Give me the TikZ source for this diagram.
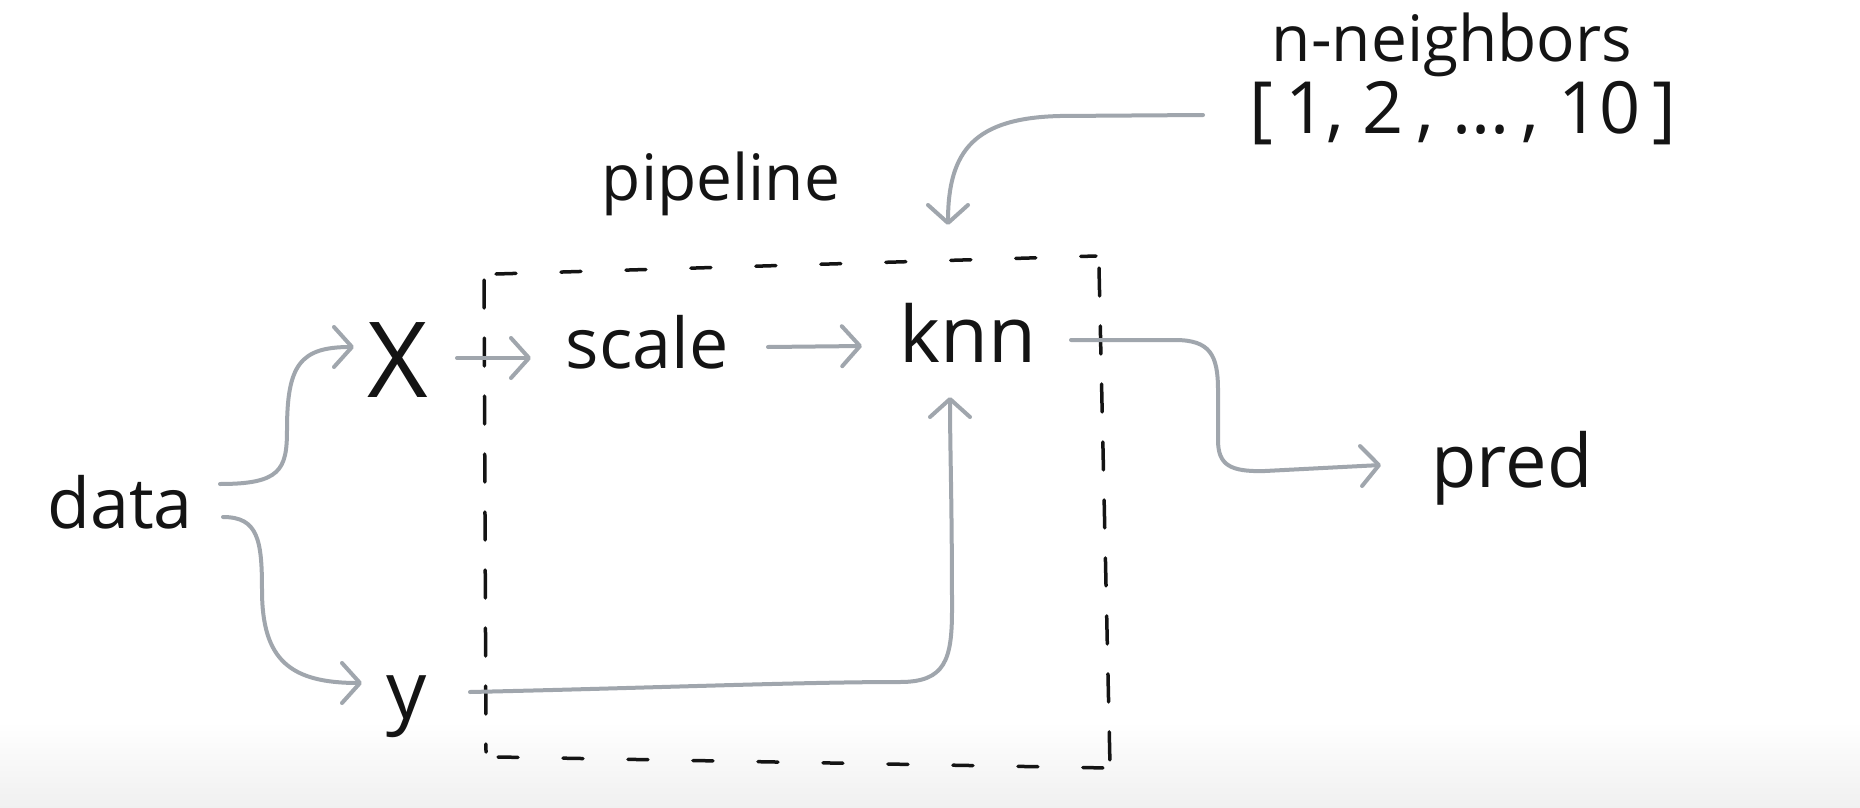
\documentclass[tikz,border=0pt]{standalone}
\usepackage{fontspec}
\setmainfont{Open Sans}
\usetikzlibrary{arrows.meta}
\definecolor{inkgray}{RGB}{160,166,173}
\definecolor{ink}{RGB}{20,20,20}
\definecolor{bandgray}{RGB}{240,240,240}
\tikzset{
  lbl/.style={anchor=base, inner sep=0pt, text=ink},
  conn/.style={draw=inkgray, line width=4pt, line cap=round, line join=round,
    -{Straight Barb[length=18pt,width=40pt,round]}},
  boxv/.style={draw=ink, line width=3.5pt, line cap=round, dash pattern=on 28pt off 30pt},
  boxh/.style={draw=ink, line width=3.5pt, line cap=round, dash pattern=on 20pt off 45pt},
}
\newcommand{\fs}[1]{\fontsize{#1}{#1}\selectfont}
\begin{document}
\begin{tikzpicture}[x=1pt,y=-1pt]
\useasboundingbox (0,0) rectangle (1860,808);
\fill[white] (0,0) rectangle (1860,808);
\shade[top color=white,bottom color=bandgray] (0,722) rectangle (1860,808);

% pipeline box
\draw[boxh] (496,274) -- (1096,256);
\draw[boxv] (1099,268) -- (1110,766);
\draw[boxh] (498,757) -- (1108,768);
\draw[boxv] (484,280) -- (486,752);

% labels
\node[lbl, font=\fs{70}] (data) at (120,528) {data};
\node[lbl, font=\fs{105}] (X) at (398,397) {X};
\node[lbl, font=\fs{80}] (y) at (407,718) {y};
\node[lbl, font=\fs{70}] (scale) at (647,368) {scale};
\node[lbl, font=\fs{78}] (knn) at (968,362) {knn};
\node[lbl, font=\fs{74}] (pred) at (1512,487) {pred};
\node[lbl, font=\fs{64}] (pipeline) at (721,200) {pipeline};
\node[lbl, font=\fs{64}] (nn) at (1452,62) {n-neighbors};
\node[lbl, font=\fs{72}] (range) at (1463,133) {[\,1,\ 2\,,\ ...\,,\ 10\,]};

% connectors
\draw[conn] ([xshift=100pt,yshift=44pt]data.base)
  .. controls (280,484) and (287,470) .. (287,430)
  .. controls (287,365) and (300,347) .. ([xshift=-44pt,yshift=50pt]X.base);
\draw[conn] ([xshift=103pt,yshift=11pt]data.base)
  .. controls (258,517) and (262,540) .. (262,590)
  .. controls (262,660) and (290,683) .. ([xshift=-45pt,yshift=35pt]y.base);
\draw[conn] ([xshift=59pt,yshift=39pt]X.base) -- ([xshift=-116pt,yshift=10pt]scale.base);
\draw[conn] ([xshift=121pt,yshift=21pt]scale.base) -- ([xshift=-106pt,yshift=16pt]knn.base);
\draw[conn] ([xshift=63pt,yshift=26pt]y.base)
  .. controls (650,688) and (800,682) .. (900,682)
  .. controls (945,682) and (952,660) .. (952,610)
  .. controls (952,500) and (950,450) .. ([xshift=-18pt,yshift=-35pt]knn.base);
\draw[conn] ([xshift=103pt,yshift=22pt]knn.base) -- (1175,340)
  .. controls (1210,340) and (1218,355) .. (1218,390) -- (1218,440)
  .. controls (1218,465) and (1230,472) .. (1265,471)
  -- ([xshift=-131pt,yshift=22pt]pred.base);
\draw[conn] ([xshift=-260pt,yshift=18pt]range.base) -- (1060,116)
  .. controls (975,118) and (948,150) .. ([xshift=-20pt,yshift=137pt]knn.base);
\end{tikzpicture}
\end{document}
